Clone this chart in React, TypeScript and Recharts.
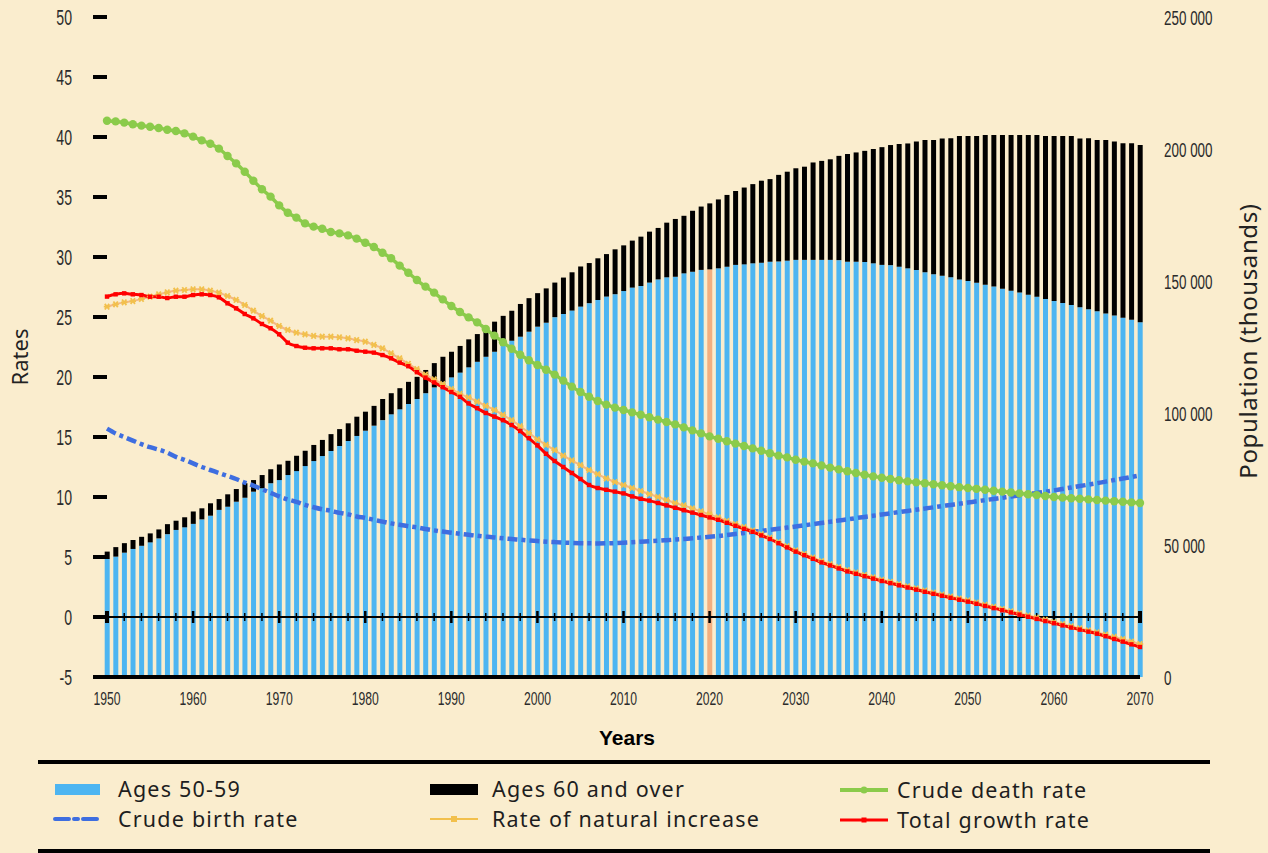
import type { ReactElement } from "react";
import { Bar, Cell, ComposedChart, Line, XAxis, YAxis } from "recharts";

// population bars are in thousands, rates per 1000
const YEARS = Array.from({ length: 121 }, (_, i) => 1950 + i);
const YEAR_TICKS = [1950, 1960, 1970, 1980, 1990, 2000, 2010, 2020, 2030, 2040, 2050, 2060, 2070];
const RATE_TICKS = [-5, 0, 5, 10, 15, 20, 25, 30, 35, 40, 45, 50];
const POP_TICKS = [0, 50000, 100000, 150000, 200000, 250000];
const POP_MARKS = [0, 1, 2, 3, 4, 5, 6];
const HIGHLIGHT_YEAR = 2020;

const AGES_50_59 = [
  44700, 45600, 47100, 48500, 49700, 51000, 52500, 54100, 55700, 56700,
  58000, 59700, 61100, 63300, 64500, 66400, 67900, 70200, 71500, 73400,
  74600, 76500, 78000, 79900, 81800, 83700, 85600, 87500, 89400, 91300,
  93300, 95200, 97300, 99500, 101400, 103400, 105300, 107500, 109700, 111700,
  113500, 115300, 117300, 119400, 121300, 123200, 125500, 127400, 128900, 130800,
  132700, 134200, 136300, 137500, 138800, 140300, 141600, 142800, 144100, 145000,
  146200, 147500, 148100, 149400, 150600, 151400, 151600, 152900, 153500, 154200,
  154400, 154800, 155400, 156100, 156300, 156700, 156900, 157300, 157400, 157700,
  158000, 158000, 158000, 158000, 158000, 157900, 157300, 157300, 157200, 156700,
  156100, 156000, 155400, 154800, 154200, 153300, 152600, 152000, 151400, 150600,
  150000, 149300, 148600, 147900, 147100, 146300, 145600, 144800, 144000, 143200,
  142400, 141700, 140900, 140100, 139300, 138500, 137700, 136900, 136100, 135300,
  134400,
];

const AGES_60_PLUS = [
  2800, 3600, 3600, 3400, 3400, 3400, 3400, 3800, 3500, 3800,
  4700, 4200, 4700, 4100, 4700, 4800, 5500, 4400, 5000, 5300,
  5900, 5400, 5800, 5800, 6100, 6100, 6400, 6400, 6700, 7300,
  7200, 7500, 8000, 8000, 8000, 8400, 8400, 8800, 9200, 9600,
  9700, 10100, 10600, 10500, 10800, 11400, 11300, 11300, 12400, 12700,
  12700, 13000, 13100, 13800, 14500, 15200, 15200, 15800, 16100, 17000,
  17300, 17800, 18700, 19300, 19500, 20700, 21900, 21800, 23100, 24000,
  25000, 26100, 27200, 28000, 29100, 30000, 31100, 31300, 32800, 33700,
  34700, 35300, 36900, 37500, 38100, 39500, 40800, 41400, 42100, 43300,
  44600, 45500, 46500, 47300, 48600, 50100, 50800, 52000, 52700, 54300,
  54900, 55600, 56700, 57400, 58200, 59000, 59700, 60500, 61300, 61700,
  62500, 63200, 64000, 63900, 64800, 64900, 65700, 65900, 66100, 66900,
  67100,
];

const BIRTH_RATE = [
  15.7, 15.3, 15.0, 14.7, 14.4, 14.15, 13.95, 13.7, 13.35, 13.1,
  12.8, 12.5, 12.25, 12.0, 11.75, 11.5, 11.2, 10.95, 10.65, 10.35,
  10.05, 9.8, 9.6, 9.35, 9.15, 8.98, 8.85, 8.68, 8.55, 8.38,
  8.25, 8.1, 7.95, 7.8, 7.68, 7.56, 7.46, 7.33, 7.22, 7.12,
  7.02, 6.93, 6.85, 6.77, 6.7, 6.63, 6.56, 6.5, 6.44, 6.38,
  6.33, 6.28, 6.24, 6.2, 6.17, 6.15, 6.14, 6.13, 6.14, 6.16,
  6.19, 6.23, 6.27, 6.31, 6.35, 6.4, 6.45, 6.5, 6.56, 6.62,
  6.68, 6.75, 6.83, 6.92, 7.0, 7.1, 7.18, 7.27, 7.36, 7.45,
  7.54, 7.64, 7.74, 7.84, 7.94, 8.04, 8.14, 8.24, 8.34, 8.44,
  8.54, 8.64, 8.74, 8.84, 8.94, 9.04, 9.14, 9.24, 9.34, 9.44,
  9.54, 9.64, 9.74, 9.84, 9.94, 10.04, 10.14, 10.24, 10.34, 10.44,
  10.55, 10.67, 10.79, 10.91, 11.03, 11.15, 11.28, 11.41, 11.54, 11.67,
  11.8,
];

const DEATH_RATE = [
  41.36, 41.3, 41.2, 41.06, 40.95, 40.85, 40.75, 40.61, 40.5, 40.3,
  40.03, 39.72, 39.44, 39.03, 38.42, 37.8, 37.11, 36.36, 35.64, 35.03,
  34.3, 33.69, 33.28, 32.8, 32.53, 32.36, 32.08, 31.97, 31.8, 31.53,
  31.19, 30.83, 30.36, 29.89, 29.28, 28.69, 28.08, 27.53, 27.03, 26.47,
  25.92, 25.42, 24.97, 24.55, 24.0, 23.45, 22.9, 22.35, 21.85, 21.4,
  21.0, 20.6, 20.2, 19.7, 19.2, 18.75, 18.35, 18.0, 17.7, 17.45,
  17.25, 17.05, 16.85, 16.65, 16.45, 16.25, 16.05, 15.8, 15.55, 15.3,
  15.05, 14.85, 14.65, 14.45, 14.25, 14.05, 13.85, 13.65, 13.45, 13.3,
  13.1, 12.95, 12.8, 12.62, 12.45, 12.3, 12.15, 12.0, 11.85, 11.72,
  11.6, 11.5, 11.4, 11.3, 11.22, 11.14, 11.06, 10.98, 10.9, 10.82,
  10.75, 10.68, 10.6, 10.52, 10.45, 10.38, 10.3, 10.23, 10.16, 10.08,
  10.0, 9.95, 9.9, 9.85, 9.8, 9.75, 9.7, 9.65, 9.6, 9.55,
  9.5,
];

const NATURAL_INCREASE = [
  25.86, 26.06, 26.22, 26.33, 26.5, 26.69, 26.89, 27.06, 27.19, 27.25,
  27.31, 27.31, 27.19, 27.03, 26.75, 26.42, 26.0, 25.53, 25.08, 24.69,
  24.25, 23.92, 23.69, 23.56, 23.42, 23.36, 23.36, 23.31, 23.22, 23.08,
  22.94, 22.67, 22.39, 21.97, 21.56, 21.1, 20.65, 20.2, 19.8, 19.4,
  19.0, 18.6, 18.3, 17.95, 17.6, 17.25, 16.85, 16.4, 15.9, 15.35,
  14.8, 14.35, 13.9, 13.45, 13.05, 12.65, 12.25, 11.9, 11.55, 11.25,
  11.0, 10.75, 10.5, 10.25, 10.0, 9.75, 9.5, 9.3, 9.05, 8.8,
  8.55, 8.3, 8.0, 7.75, 7.5, 7.2, 6.9, 6.6, 6.25, 5.9,
  5.55, 5.25, 4.95, 4.65, 4.4, 4.15, 3.9, 3.7, 3.5, 3.3,
  3.1, 2.92, 2.74, 2.56, 2.38, 2.2, 2.03, 1.87, 1.7, 1.54,
  1.38, 1.2, 1.02, 0.84, 0.66, 0.48, 0.3, 0.12, -0.06, -0.24,
  -0.42, -0.6, -0.78, -0.95, -1.12, -1.29, -1.47, -1.66, -1.85, -2.05,
  -2.25,
];

const TOTAL_GROWTH = [
  26.7, 26.89, 26.97, 26.89, 26.83, 26.69, 26.69, 26.58, 26.69, 26.69,
  26.83, 26.89, 26.83, 26.64, 26.14, 25.72, 25.25, 24.89, 24.42, 24.06,
  23.56, 22.86, 22.58, 22.44, 22.39, 22.39, 22.39, 22.31, 22.31, 22.19,
  22.11, 22.03, 21.83, 21.56, 21.2, 20.9, 20.4, 19.95, 19.55, 19.15,
  18.75, 18.35, 17.8, 17.4, 17.0, 16.7, 16.4, 16.0, 15.5, 14.9,
  14.3, 13.6, 13.0, 12.5, 12.0, 11.5, 11.0, 10.75, 10.6, 10.45,
  10.3, 10.05, 9.85, 9.7, 9.5, 9.3, 9.1, 8.9, 8.7, 8.5,
  8.3, 8.1, 7.85, 7.6, 7.35, 7.1, 6.8, 6.5, 6.15, 5.8,
  5.45, 5.15, 4.85, 4.55, 4.3, 4.05, 3.8, 3.6, 3.4, 3.2,
  3.0, 2.82, 2.64, 2.46, 2.28, 2.1, 1.93, 1.77, 1.6, 1.44,
  1.28, 1.1, 0.92, 0.74, 0.56, 0.38, 0.2, 0.02, -0.16, -0.34,
  -0.52, -0.7, -0.88, -1.05, -1.22, -1.39, -1.6, -1.83, -2.05, -2.28,
  -2.5,
];

const BG = "#FAEDCE";
const BLUE_BAR = "#4DB5F1";
const HIGHLIGHT_BAR = "#F2AF80";
const BIRTH_BLUE = "#3E6EE0";
const DEATH_GREEN = "#8BCB4B";
const NATURAL_LINE = "#F3B885";
const NATURAL_STAR = "#F2C04C";
const GROWTH_RED = "#FF0000";
const TICK_FONT = "'Liberation Sans', Arial, sans-serif";
const TEXT_FONT = "'Noto Sans', 'Open Sans', sans-serif";

const rows = YEARS.map((year, i) => ({
  year,
  ages5059: AGES_50_59[i],
  ages60: AGES_60_PLUS[i],
  birth: BIRTH_RATE[i],
  death: DEATH_RATE[i],
  natural: NATURAL_INCREASE[i],
  growth: TOTAL_GROWTH[i],
  zero: 0,
}));

const popLabel = (v: number): string =>
  v === 0 ? "0" : `${Math.floor(v / 1000)} ${String(v % 1000).padStart(3, "0")}`;

// narrow, tall tick labels like the condensed face of the original
function CondensedTick(props: any): ReactElement {
  const { x, y, payload, textAnchor, size, dy, fmt } = props;
  const label = fmt ? fmt(payload.value) : String(payload.value);
  return (
    <text
      transform={`translate(${x},${y}) scale(0.64,1)`}
      textAnchor={textAnchor}
      dy={dy}
      fontSize={size}
      fontFamily={TICK_FONT}
      fill="#2b2b2b"
    >
      {label}
    </text>
  );
}

function ZeroTick(props: any): ReactElement {
  const { cx, cy, payload, index } = props;
  const year = payload?.year ?? 0;
  if (cx == null || cy == null) return <g key={index} />;
  if (year === 1950 || year === 2070) {
    return <rect key={index} x={cx - 2} y={cy - 6} width={4} height={12} fill="#000" />;
  }
  if (year % 10 === 0) {
    return <rect key={index} x={cx - 1.25} y={cy - 6} width={2.5} height={12} fill="#000" />;
  }
  if (year % 2 === 0) {
    return <rect key={index} x={cx - 0.75} y={cy - 4} width={1.5} height={8} fill="#000" />;
  }
  return <g key={index} />;
}

function StarDot(props: any): ReactElement {
  const { cx, cy, index } = props;
  if (cx == null || cy == null) return <g key={index} />;
  return (
    <path
      key={index}
      d={`M${cx - 3.2},${cy} L${cx + 3.2},${cy} M${cx - 2.2},${cy - 2.8} L${cx + 2.2},${cy + 2.8} M${cx - 2.2},${cy + 2.8} L${cx + 2.2},${cy - 2.8}`}
      stroke={NATURAL_STAR}
      strokeWidth={1.8}
      fill="none"
    />
  );
}

function SquareDot(props: any): ReactElement {
  const { cx, cy, index } = props;
  if (cx == null || cy == null) return <g key={index} />;
  return <rect key={index} x={cx - 2.2} y={cy - 2.2} width={4.4} height={4.4} fill={GROWTH_RED} />;
}

function LegendIcon({ kind }: { kind: string }): ReactElement {
  return (
    <svg width={50} height={14} style={{ display: "block" }}>
      {kind === "blue" && <rect x={2} y={2} width={45} height={11} fill={BLUE_BAR} />}
      {kind === "black" && <rect x={0} y={2} width={48} height={11} fill="#000" />}
      {kind === "birth" && (
        <line x1={2} y1={7} x2={48} y2={7} stroke={BIRTH_BLUE} strokeWidth={4} strokeDasharray="14 5 4 5" strokeLinecap="round" />
      )}
      {kind === "natural" && (
        <g>
          <line x1={0} y1={7} x2={48} y2={7} stroke={NATURAL_STAR} strokeWidth={2} />
          <rect x={21} y={4} width={6} height={6} fill={NATURAL_STAR} />
        </g>
      )}
      {kind === "death" && (
        <g>
          <line x1={0} y1={7} x2={48} y2={7} stroke={DEATH_GREEN} strokeWidth={4} />
          <circle cx={24} cy={7} r={3.5} fill={DEATH_GREEN} />
        </g>
      )}
      {kind === "growth" && (
        <g>
          <line x1={0} y1={7} x2={48} y2={7} stroke={GROWTH_RED} strokeWidth={3} />
          <rect x={21.5} y={4.5} width={5} height={5} fill={GROWTH_RED} />
        </g>
      )}
    </svg>
  );
}

const LEGEND = [
  { label: "Ages 50-59", kind: "blue", icon: 53, text: 118, y: 789 },
  { label: "Crude birth rate", kind: "birth", icon: 53, text: 118, y: 819 },
  { label: "Ages 60 and over", kind: "black", icon: 430, text: 492, y: 789 },
  { label: "Rate of natural increase", kind: "natural", icon: 430, text: 492, y: 819 },
  { label: "Crude death rate", kind: "death", icon: 840, text: 897, y: 790 },
  { label: "Total growth rate", kind: "growth", icon: 840, text: 897, y: 820 },
];

export default function App(): ReactElement {
  return (
    <div
      style={{
        position: "absolute",
        left: 0,
        top: 0,
        width: 1268,
        height: 853,
        background: BG,
        overflow: "hidden",
        fontFamily: TEXT_FONT,
      }}
    >
      <ComposedChart width={1268} height={720} data={rows} margin={{ top: 17, right: 0, bottom: 0, left: 0 }}>
        <XAxis
          dataKey="year"
          type="number"
          domain={[1950, 2070]}
          ticks={YEAR_TICKS}
          interval={0}
          height={43}
          tickSize={0}
          tickMargin={15}
          tick={<CondensedTick size={19} dy="0.71em" />}
          axisLine={{ stroke: "#000", strokeWidth: 4 }}
          tickLine={false}
        />
        <YAxis
          yAxisId="rate"
          domain={[-5, 50]}
          ticks={RATE_TICKS}
          interval={0}
          width={107}
          tickSize={14}
          tickMargin={21}
          tick={<CondensedTick size={22} dy="0.36em" />}
          axisLine={false}
          tickLine={{ stroke: "#000", strokeWidth: 4 }}
        />
        <YAxis
          yAxisId="marks"
          orientation="right"
          domain={[0, 6]}
          ticks={POP_MARKS}
          interval={0}
          width={1}
          tickSize={6}
          tick={false}
          axisLine={false}
          tickLine={{ stroke: "#8c8c8c", strokeWidth: 2 }}
        />
        <YAxis
          yAxisId="pop"
          orientation="right"
          domain={[0, 250000]}
          ticks={POP_TICKS}
          interval={0}
          width={127}
          tickSize={0}
          tickMargin={23}
          tick={<CondensedTick size={21} dy="0.36em" fmt={popLabel} />}
          axisLine={false}
          tickLine={false}
        />
        <Bar yAxisId="pop" dataKey="ages5059" name="Ages 50-59" stackId="pop" fill={BLUE_BAR} barSize={5} isAnimationActive={false}>
          {rows.map((r) => (
            <Cell key={r.year} fill={r.year === HIGHLIGHT_YEAR ? HIGHLIGHT_BAR : BLUE_BAR} />
          ))}
        </Bar>
        <Bar yAxisId="pop" dataKey="ages60" name="Ages 60 and over" stackId="pop" fill="#000" barSize={5} isAnimationActive={false} />
        <Line yAxisId="rate" dataKey="zero" type="linear" stroke="#000" strokeWidth={2} dot={ZeroTick} activeDot={false} isAnimationActive={false} />
        <Line
          yAxisId="rate"
          dataKey="birth"
          name="Crude birth rate"
          type="monotone"
          stroke={BIRTH_BLUE}
          strokeWidth={4.5}
          strokeDasharray="10 4 4 4"
          dot={false}
          isAnimationActive={false}
        />
        <Line
          yAxisId="rate"
          dataKey="natural"
          name="Rate of natural increase"
          type="monotone"
          stroke={NATURAL_LINE}
          strokeWidth={2}
          dot={StarDot}
          isAnimationActive={false}
        />
        <Line
          yAxisId="rate"
          dataKey="growth"
          name="Total growth rate"
          type="monotone"
          stroke={GROWTH_RED}
          strokeWidth={3}
          dot={SquareDot}
          isAnimationActive={false}
        />
        <Line
          yAxisId="rate"
          dataKey="death"
          name="Crude death rate"
          type="monotone"
          stroke={DEATH_GREEN}
          strokeWidth={3.5}
          dot={{ r: 4.2, fill: DEATH_GREEN, stroke: "none" }}
          isAnimationActive={false}
        />
      </ComposedChart>

      <div
        style={{
          position: "absolute",
          left: 19 - 100,
          top: 357 - 15,
          width: 200,
          textAlign: "center",
          fontSize: 22,
          lineHeight: "30px",
          color: "#222",
          transform: "rotate(-90deg)",
        }}
      >
        Rates
      </div>
      <div
        style={{
          position: "absolute",
          left: 1248 - 200,
          top: 341 - 16,
          width: 400,
          textAlign: "center",
          fontSize: 24,
          letterSpacing: 0.6,
          lineHeight: "32px",
          color: "#222",
          transform: "rotate(-90deg)",
        }}
      >
        Population (thousands)
      </div>
      <div
        style={{
          position: "absolute",
          left: 527,
          top: 724,
          width: 200,
          textAlign: "center",
          fontFamily: "'Liberation Sans', Arial, sans-serif",
          fontWeight: 700,
          fontSize: 21,
          lineHeight: "28px",
          color: "#000",
        }}
      >
        Years
      </div>

      <div style={{ position: "absolute", left: 38, top: 760, width: 1172, height: 4, background: "#000" }} />
      <div style={{ position: "absolute", left: 38, top: 849, width: 1172, height: 4, background: "#000" }} />
      {LEGEND.map((item) => (
        <div key={item.label}>
          <div style={{ position: "absolute", left: item.icon, top: item.y - 7 }}>
            <LegendIcon kind={item.kind} />
          </div>
          <div
            style={{
              position: "absolute",
              left: item.text,
              top: item.y - 12,
              fontSize: 21.5,
              letterSpacing: 1.2,
              lineHeight: "24px",
              height: 24,
              color: "#1e1e1e",
              whiteSpace: "nowrap",
            }}
          >
            {item.label}
          </div>
        </div>
      ))}
    </div>
  );
}
